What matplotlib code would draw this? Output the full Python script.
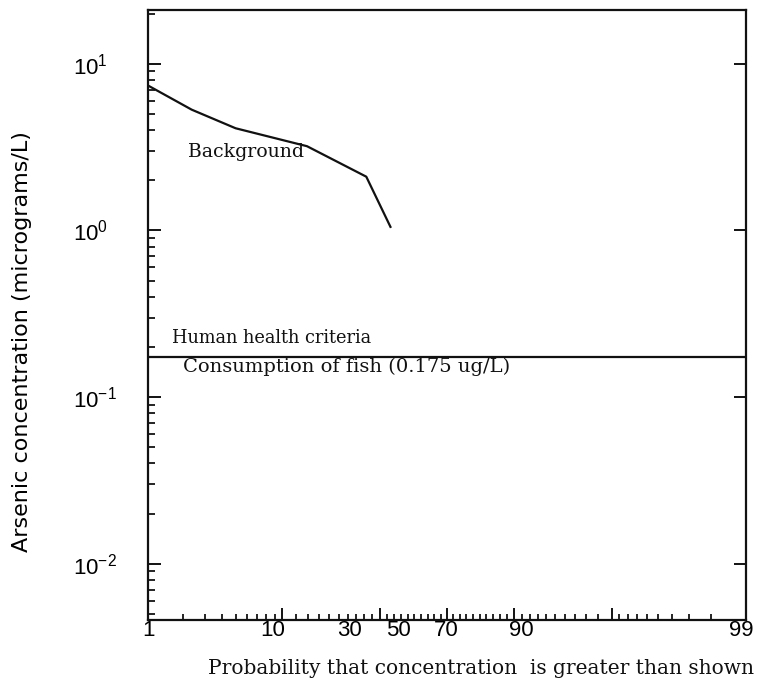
import math
import matplotlib
matplotlib.use('Agg')
import matplotlib.pyplot as plt
import numpy as np

# background arsenic: exceedance probability (%) vs concentration (ug/L)
bg_prob = [1, 2.35, 5, 13.8, 26.5, 33]
bg_conc = [7.4, 5.3, 4.1, 3.2, 2.1, 1.05]

# human health criterion, consumption of fish
criteria_conc = 0.175

# probability axis ticks
major_prob = [10, 30, 50, 70, 90]
minor_prob = (list(range(2, 10)) + list(range(12, 30, 2)) + list(range(32, 50, 2))
              + list(range(52, 70, 2)) + list(range(72, 90, 2)) + list(range(91, 99)))
# the printed labels sit off their ticks in the original
label_prob = [1, 8.8, 22.3, 35.2, 49.7, 71.8, 98.9]
label_text = ['1', '10', '30', '50', '70', '90', '99']

y_ticks = [1e-2, 1e-1, 1e0, 1e1]
y_labels = [r'$10^{-2}$', r'$10^{-1}$', r'$10^{0}$', r'$10^{1}$']

_erf = np.vectorize(math.erf, otypes=[float])


def prob_to_z(p):
    # inverse normal cdf by bisection (no scipy)
    q = np.clip(np.asarray(p, dtype=float), 1e-4, 100 - 1e-4) / 100.0
    lo = np.full(q.shape, -6.0)
    hi = np.full(q.shape, 6.0)
    for _ in range(50):
        mid = (lo + hi) / 2
        below = 0.5 * (1 + _erf(mid / math.sqrt(2))) < q
        lo = np.where(below, mid, lo)
        hi = np.where(below, hi, mid)
    return (lo + hi) / 2


def z_to_prob(z):
    z = np.asarray(z, dtype=float)
    return 50.0 * (1 + _erf(z / math.sqrt(2)))


plt.rcParams['mathtext.default'] = 'regular'
plt.rcParams['font.family'] = 'Liberation Sans'

fig = plt.figure(figsize=(7.59, 6.88), dpi=100)
ax = fig.add_axes([148 / 759, 68 / 688, 598 / 759, 610 / 688])

ax.set_xscale('function', functions=(prob_to_z, z_to_prob))
ax.set_yscale('log')
ax.set_xlim(1, 99)
ax.set_ylim(0.0046, 21)

ax.plot(bg_prob, bg_conc, color='#111111', lw=1.6)
ax.axhline(criteria_conc, color='#111111', lw=1.6)

serif = 'DejaVu Serif'
ax.text(0.067, 0.767, 'Background', transform=ax.transAxes, family=serif,
        fontsize=13.6, va='center', ha='left', color='#111111')
ax.text(0.040, 0.462, 'Human health criteria', transform=ax.transAxes, family=serif,
        fontsize=12.8, va='center', ha='left', color='#111111')
ax.text(0.0585, 0.415, 'Consumption of fish (0.175 ug/L)', transform=ax.transAxes,
        family=serif, fontsize=14.0, va='center', ha='left', color='#111111')

# x ticks (no labels on the main axis)
ax.set_xticks(major_prob)
ax.set_xticks(minor_prob, minor=True)
ax.tick_params(axis='x', which='major', direction='in', length=9, width=1.3,
               top=True, bottom=True, labelbottom=False)
ax.tick_params(axis='x', which='minor', direction='in', length=4.5, width=1.2,
               top=False, bottom=True)

# y ticks
ax.set_yticks(y_ticks, y_labels)
ax.tick_params(axis='y', which='major', direction='in', length=9, width=1.3,
               left=True, right=True, labelsize=16, pad=54)
ax.tick_params(axis='y', which='minor', direction='in', length=5, width=1.2,
               left=True, right=False)
plt.setp(ax.get_yticklabels(), ha='left')

for s in ax.spines.values():
    s.set_linewidth(1.6)
    s.set_color('#111111')

# printed probability labels on their own axis
ax2 = ax.twiny()
ax2.set_xscale('function', functions=(prob_to_z, z_to_prob))
ax2.set_xlim(ax.get_xlim())
ax2.xaxis.set_ticks_position('bottom')
ax2.set_xticks(label_prob, label_text)
ax2.set_xticks([], minor=True)
ax2.tick_params(axis='x', length=0, labelsize=16, pad=0)
for s in ax2.spines.values():
    s.set_visible(False)

ax.set_ylabel('Arsenic concentration (micrograms/L)', family='DejaVu Sans', fontsize=16,
              va='center')
ax.yaxis.set_label_coords(-0.211, 0.456)
ax.set_xlabel('Probability that concentration  is greater than shown', family=serif,
              fontsize=14.5, ha='left', va='center', color='#111111')
ax.xaxis.set_label_coords(0.100, -0.079)

fig.savefig('out.png', dpi=100)
